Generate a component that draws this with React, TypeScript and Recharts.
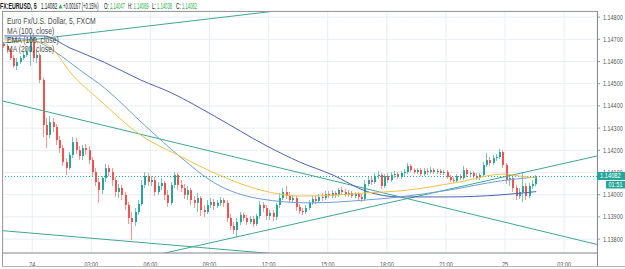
import React from 'react'
import { ComposedChart, Bar, Line, XAxis, YAxis, CartesianGrid, ReferenceLine } from 'recharts'

const W = 625
const H = 269
const FONT = '"Liberation Sans", Arial, sans-serif'

// 10-minute candles, time in minutes from 24 00:00 (first candle 23 22:35)
const FIRST_CANDLE = -85
const STEP = 10

// [open, high, low, close]
const ohlc = [
    [1.14679, 1.14688, 1.14661, 1.14670], [1.14670, 1.14679, 1.14638, 1.14652], [1.14652, 1.14661, 1.14607, 1.14616],
    [1.14616, 1.14629, 1.14571, 1.14580], [1.14580, 1.14616, 1.14562, 1.14598], [1.14598, 1.14625, 1.14589, 1.14616],
    [1.14616, 1.14643, 1.14607, 1.14629], [1.14629, 1.14661, 1.14620, 1.14643], [1.14643, 1.14728, 1.14580, 1.14706],
    [1.14706, 1.14719, 1.14598, 1.14616], [1.14616, 1.14652, 1.14593, 1.14629], [1.14629, 1.14638, 1.14503, 1.14517],
    [1.14517, 1.14526, 1.14260, 1.14314], [1.14314, 1.14345, 1.14210, 1.14269], [1.14269, 1.14354, 1.14255, 1.14327],
    [1.14327, 1.14345, 1.14282, 1.14305], [1.14305, 1.14318, 1.14224, 1.14246], [1.14246, 1.14264, 1.14188, 1.14210],
    [1.14210, 1.14224, 1.14129, 1.14147], [1.14147, 1.14165, 1.14089, 1.14120], [1.14120, 1.14192, 1.14111, 1.14179],
    [1.14179, 1.14260, 1.14165, 1.14237], [1.14237, 1.14255, 1.14183, 1.14201], [1.14201, 1.14219, 1.14156, 1.14174],
    [1.14174, 1.14224, 1.14156, 1.14210], [1.14210, 1.14228, 1.14179, 1.14201], [1.14201, 1.14219, 1.14138, 1.14156],
    [1.14156, 1.14170, 1.14080, 1.14102], [1.14102, 1.14120, 1.14039, 1.14057], [1.14057, 1.14075, 1.13963, 1.14021],
    [1.14021, 1.14084, 1.14003, 1.14075], [1.14075, 1.14138, 1.14057, 1.14120], [1.14120, 1.14134, 1.14084, 1.14102],
    [1.14102, 1.14120, 1.14039, 1.14066], [1.14066, 1.14080, 1.13990, 1.14012], [1.14012, 1.14048, 1.13985, 1.14030],
    [1.14030, 1.14044, 1.13976, 1.13999], [1.13999, 1.14012, 1.13931, 1.13954], [1.13954, 1.13967, 1.13868, 1.13895],
    [1.13895, 1.13922, 1.13796, 1.13877], [1.13877, 1.13940, 1.13859, 1.13922], [1.13922, 1.13976, 1.13909, 1.13958],
    [1.13958, 1.14066, 1.13949, 1.14044], [1.14044, 1.14102, 1.14030, 1.14084], [1.14084, 1.14098, 1.14039, 1.14057],
    [1.14057, 1.14084, 1.14039, 1.14066], [1.14066, 1.14080, 1.13994, 1.14012], [1.14012, 1.14057, 1.13999, 1.14039],
    [1.14039, 1.14075, 1.14021, 1.14053], [1.14053, 1.14062, 1.13976, 1.13999], [1.13999, 1.14021, 1.13945, 1.13963],
    [1.13963, 1.14057, 1.13954, 1.14044], [1.14044, 1.14102, 1.14030, 1.14089], [1.14089, 1.14098, 1.14021, 1.14044],
    [1.14044, 1.14066, 1.14012, 1.14030], [1.14030, 1.14048, 1.13981, 1.13999], [1.13999, 1.14039, 1.13976, 1.14021],
    [1.14021, 1.14030, 1.13954, 1.13976], [1.13976, 1.13994, 1.13940, 1.13963], [1.13963, 1.14008, 1.13922, 1.13985],
    [1.13985, 1.13994, 1.13904, 1.13931], [1.13931, 1.13954, 1.13900, 1.13922], [1.13922, 1.13976, 1.13913, 1.13954],
    [1.13954, 1.13985, 1.13940, 1.13967], [1.13967, 1.13981, 1.13931, 1.13949], [1.13949, 1.13976, 1.13940, 1.13963],
    [1.13963, 1.13990, 1.13949, 1.13976], [1.13976, 1.13985, 1.13945, 1.13963], [1.13963, 1.13976, 1.13877, 1.13895],
    [1.13895, 1.13913, 1.13841, 1.13859], [1.13859, 1.13877, 1.13823, 1.13841], [1.13841, 1.13895, 1.13810, 1.13877],
    [1.13877, 1.13922, 1.13863, 1.13909], [1.13909, 1.13918, 1.13881, 1.13895], [1.13895, 1.13909, 1.13863, 1.13877],
    [1.13877, 1.13904, 1.13868, 1.13891], [1.13891, 1.13904, 1.13854, 1.13868], [1.13868, 1.13913, 1.13859, 1.13904],
    [1.13904, 1.13972, 1.13891, 1.13954], [1.13954, 1.13967, 1.13922, 1.13940], [1.13940, 1.13954, 1.13886, 1.13904],
    [1.13904, 1.13931, 1.13886, 1.13918], [1.13918, 1.13931, 1.13881, 1.13900], [1.13900, 1.13963, 1.13886, 1.13954],
    [1.13954, 1.14008, 1.13940, 1.13985], [1.13985, 1.14030, 1.13976, 1.14012], [1.14012, 1.14039, 1.13981, 1.13994],
    [1.13994, 1.14012, 1.13963, 1.13976], [1.13976, 1.13999, 1.13963, 1.13985], [1.13985, 1.13994, 1.13927, 1.13945],
    [1.13945, 1.13958, 1.13913, 1.13927], [1.13927, 1.13940, 1.13909, 1.13922], [1.13922, 1.13954, 1.13913, 1.13940],
    [1.13940, 1.13976, 1.13931, 1.13963], [1.13963, 1.13994, 1.13954, 1.13981], [1.13981, 1.13994, 1.13958, 1.13972],
    [1.13972, 1.14003, 1.13963, 1.13990], [1.13990, 1.14008, 1.13972, 1.13985], [1.13985, 1.14017, 1.13976, 1.14003],
    [1.14003, 1.14017, 1.13985, 1.13994], [1.13994, 1.14021, 1.13985, 1.14008], [1.14008, 1.14017, 1.13985, 1.13999],
    [1.13999, 1.14030, 1.13990, 1.14021], [1.14021, 1.14035, 1.13999, 1.14012], [1.14012, 1.14026, 1.13990, 1.13999],
    [1.13999, 1.14021, 1.13990, 1.14008], [1.14008, 1.14017, 1.13985, 1.13994], [1.13994, 1.14012, 1.13985, 1.14003],
    [1.14003, 1.14012, 1.13976, 1.13990], [1.13990, 1.14003, 1.13967, 1.13981], [1.13981, 1.14066, 1.13972, 1.14048],
    [1.14048, 1.14084, 1.14039, 1.14066], [1.14066, 1.14080, 1.14044, 1.14057], [1.14057, 1.14098, 1.14048, 1.14084],
    [1.14084, 1.14107, 1.14071, 1.14089], [1.14089, 1.14098, 1.14026, 1.14039], [1.14039, 1.14093, 1.14030, 1.14084],
    [1.14084, 1.14098, 1.14053, 1.14066], [1.14066, 1.14102, 1.14057, 1.14089], [1.14089, 1.14107, 1.14075, 1.14093],
    [1.14093, 1.14102, 1.14071, 1.14080], [1.14080, 1.14107, 1.14071, 1.14098], [1.14098, 1.14116, 1.14084, 1.14102],
    [1.14102, 1.14143, 1.14093, 1.14129], [1.14129, 1.14138, 1.14102, 1.14111], [1.14111, 1.14120, 1.14093, 1.14102],
    [1.14102, 1.14120, 1.14093, 1.14111], [1.14111, 1.14120, 1.14084, 1.14093], [1.14093, 1.14120, 1.14084, 1.14107],
    [1.14107, 1.14120, 1.14089, 1.14102], [1.14102, 1.14125, 1.14093, 1.14111], [1.14111, 1.14120, 1.14093, 1.14102],
    [1.14102, 1.14116, 1.14093, 1.14107], [1.14107, 1.14116, 1.14089, 1.14098], [1.14098, 1.14111, 1.14089, 1.14102],
    [1.14102, 1.14111, 1.14071, 1.14080], [1.14080, 1.14089, 1.14057, 1.14066], [1.14066, 1.14080, 1.14053, 1.14062],
    [1.14062, 1.14093, 1.14053, 1.14084], [1.14084, 1.14093, 1.14066, 1.14075], [1.14075, 1.14129, 1.14066, 1.14111],
    [1.14111, 1.14120, 1.14080, 1.14093], [1.14093, 1.14107, 1.14084, 1.14098], [1.14098, 1.14107, 1.14075, 1.14084],
    [1.14084, 1.14098, 1.14066, 1.14075], [1.14075, 1.14098, 1.14066, 1.14089], [1.14089, 1.14147, 1.14080, 1.14134],
    [1.14134, 1.14188, 1.14125, 1.14156], [1.14156, 1.14170, 1.14129, 1.14143], [1.14143, 1.14179, 1.14134, 1.14165],
    [1.14165, 1.14183, 1.14152, 1.14170], [1.14170, 1.14206, 1.14161, 1.14192], [1.14192, 1.14201, 1.14120, 1.14134],
    [1.14134, 1.14143, 1.14048, 1.14066], [1.14066, 1.14093, 1.14039, 1.14075], [1.14075, 1.14089, 1.14012, 1.14030],
    [1.14030, 1.14044, 1.13976, 1.13994], [1.13994, 1.14030, 1.13981, 1.14012], [1.14012, 1.14102, 1.13967, 1.14039],
    [1.14039, 1.14053, 1.13976, 1.13994], [1.13994, 1.14053, 1.13985, 1.14039], [1.14039, 1.14066, 1.14026, 1.14048],
    [1.14047, 1.14089, 1.14038, 1.14082],
]

// [minutes, price]
const ma100 = [
    [-85, 1.14706], [0, 1.14697], [70, 1.14643], [145, 1.14562], [220, 1.14481], [345, 1.14309], [455, 1.14165],
    [555, 1.14053], [695, 1.13981], [845, 1.13963], [1015, 1.13976], [1120, 1.13990], [1270, 1.14021],
    [1425, 1.14062], [1535, 1.14080],
]
const ema100 = [
    [-85, 1.14697], [25, 1.14688], [70, 1.14643], [115, 1.14553], [205, 1.14427], [330, 1.14269], [455, 1.14170],
    [555, 1.14098], [695, 1.14021], [815, 1.13994], [935, 1.13999], [1015, 1.14008], [1120, 1.14017],
    [1300, 1.14057], [1435, 1.14093], [1485, 1.14084], [1535, 1.14075],
]
const ma200 = [
    [-85, 1.14715], [35, 1.14715], [115, 1.14661], [220, 1.14596], [330, 1.14517], [425, 1.14458], [555, 1.14354],
    [715, 1.14219], [815, 1.14147], [915, 1.14089], [1020, 1.14014], [1120, 1.13990], [1270, 1.13990],
    [1425, 1.13999], [1535, 1.14014],
]

// drawn trend lines: two anchor points each
const trendLines = [
    [[-89, 1.14683], [785, 1.14835]],
    [[-98, 1.14425], [1728, 1.13773]],
    [[-98, 1.13839], [815, 1.13724]],
    [[358, 1.13722], [1728, 1.14177]],
]

const TIME_TICKS = [0, 180, 360, 540, 720, 900, 1080, 1260, 1440, 1620]
const TIME_LABELS = ['24', '03:00', '06:00', '09:00', '12:00', '15:00', '18:00', '21:00', '25', '03:00']
const PRICE_TICKS = [1.138, 1.139, 1.14, 1.141, 1.142, 1.143, 1.144, 1.145, 1.146, 1.147, 1.148]
const X_DOMAIN = [-89, 1720]
const Y_DOMAIN = [1.137374, 1.148275]
const LAST_PRICE = 1.14082

const UP = '#26a69a'
const DN = '#ef5350'
const WICK_UP = '#74c7be'
const WICK_DN = '#f59896'
const TREND = '#3fa892'
const GREEN_TXT = '#2bb24c'
const DARK_TXT = '#131722'

const MARGIN = { top: 11, right: 0, left: 3, bottom: 0 }
const Y_W = 28
const X_H = 16

const candles = ohlc.map(([o, h, l, c], i) => ({ t: FIRST_CANDLE + i * STEP, o, h, l, c }))
const toPts = (arr: number[][]) => arr.map(([t, v]) => ({ t, v }))

function Candle(props: any) {
    const { x, y, width, height, payload } = props
    if (!payload || x == null) return null
    const top = Math.min(y, y + height)
    const bot = Math.max(y, y + height)
    const span = payload.h - payload.l
    const py = (v: number) => (span > 0 ? top + ((payload.h - v) / span) * (bot - top) : top)
    const up = payload.c >= payload.o
    const cx = Math.round(x + width / 2)
    const bTop = py(Math.max(payload.o, payload.c))
    const bBot = py(Math.min(payload.o, payload.c))
    return (
        <g>
            <rect x={cx - 1} y={top} width={1} height={Math.max(bot - top, 1)} fill={up ? WICK_UP : WICK_DN} />
            <rect x={cx - 1} y={bTop} width={2} height={Math.max(bBot - bTop, 1)} fill={up ? UP : DN} />
        </g>
    )
}

// narrow text: the reference is squeezed horizontally, so scale glyphs in x
function Narrow({ x, y, sx, children, anchor = 'start', ...rest }: any) {
    return (
        <text transform={`translate(${x} ${y}) scale(${sx} 1)`} textAnchor={anchor} fontFamily={FONT} {...rest}>
            {children}
        </text>
    )
}

function PriceTick(props: any) {
    const { x, y, payload } = props
    return (
        <Narrow x={x + 1} y={y} sx={0.78} dy="0.35em" fontSize={7} fill="#555">
            {payload.value.toFixed(5)}
        </Narrow>
    )
}

function TimeTick(props: any) {
    const { x, y, index } = props
    return (
        <Narrow x={x} y={y + 6} sx={0.78} anchor="middle" fontSize={7} fill="#555">
            {TIME_LABELS[index] ?? ''}
        </Narrow>
    )
}

function Overlay() {
    const plotTop = MARGIN.top
    const plotBot = H - X_H
    const axisX = W - Y_W
    const yOf = (p: number) => plotTop + ((Y_DOMAIN[1] - p) / (Y_DOMAIN[1] - Y_DOMAIN[0])) * (plotBot - plotTop)
    const ly = yOf(LAST_PRICE)
    const hdr = [
        { s: 'FX:EURUSD, 5', x: 0, sx: 0.62, c: DARK_TXT, b: true },
        { s: '1.14082', x: 41, sx: 0.53, c: DARK_TXT },
        { s: '+0.00167 (+0.15%)', x: 63, sx: 0.49, c: DARK_TXT },
        { s: 'O:', x: 104, sx: 0.54, c: DARK_TXT },
        { s: '1.14047', x: 110, sx: 0.48, c: GREEN_TXT },
        { s: 'H:', x: 128, sx: 0.5, c: DARK_TXT },
        { s: '1.14089', x: 133.5, sx: 0.49, c: GREEN_TXT },
        { s: 'L:', x: 152, sx: 0.54, c: DARK_TXT },
        { s: '1.14038', x: 157, sx: 0.49, c: GREEN_TXT },
        { s: 'C:', x: 176, sx: 0.56, c: DARK_TXT },
        { s: '1.14082', x: 182, sx: 0.48, c: GREEN_TXT },
    ]
    const legend = [
        { s: 'Euro Fx/U.S. Dollar, 5, FXCM', y: 24 },
        { s: 'MA (100, close)', y: 33.5 },
        { s: 'EMA (100, close)', y: 43 },
        { s: 'MA (200, close)', y: 52 },
    ]
    return (
        <svg width={W} height={H} style={{ position: 'absolute', left: 0, top: 0, pointerEvents: 'none' }}>
            {/* frame */}
            <line x1={2.5} y1={plotTop + 0.5} x2={axisX} y2={plotTop + 0.5} stroke="#9a9a9a" />
            <line x1={2.5} y1={plotTop} x2={2.5} y2={266.5} stroke="#9a9a9a" />
            <line x1={axisX + 0.5} y1={plotTop} x2={axisX + 0.5} y2={266.5} stroke="#8a8a8a" />
            <line x1={2} y1={266.5} x2={W} y2={266.5} stroke="#b5b5b5" />

            {/* header */}
            {hdr.map((h, i) => (
                <Narrow key={i} x={h.x} y={8.5} sx={h.sx} fontSize={8.5} fill={h.c} fontWeight={h.b ? 700 : 400}>
                    {h.s}
                </Narrow>
            ))}
            <polygon points="58.5,8.5 62.5,8.5 60.5,4" fill={GREEN_TXT} />

            {/* study legend */}
            {legend.map((l, i) => (
                <Narrow key={i} x={7} y={l.y} sx={0.8} fontSize={8.5} fill="#4a4a4a">{l.s}</Narrow>
            ))}

            {/* last price tag + countdown */}
            <rect x={axisX} y={ly - 4.5} width={Y_W} height={8} fill={UP} />
            <Narrow x={axisX + 3} y={ly - 0.5} sx={0.82} dy="0.35em" fontSize={7} fill="#fff">1.14082</Narrow>
            <rect x={606} y={ly + 4.5} width={W - 606} height={7.5} fill={UP} />
            <Narrow x={608.5} y={ly + 8.3} sx={0.8} dy="0.35em" fontSize={7} fill="#fff">01:51</Narrow>
        </svg>
    )
}

export default function App() {
    return (
        <div style={{ position: 'relative', width: W, height: H, background: '#fff' }}>
            <style>{'body{margin:0}'}</style>
            <ComposedChart width={W} height={H} data={candles} margin={MARGIN}>
                <CartesianGrid stroke="#e9eef4" />
                <XAxis dataKey="t" type="number" domain={X_DOMAIN} ticks={TIME_TICKS} allowDataOverflow
                    height={X_H} axisLine={{ stroke: '#8a8a8a' }} tickLine={false} tick={<TimeTick />} interval={0} />
                <YAxis type="number" orientation="right" domain={Y_DOMAIN} ticks={PRICE_TICKS} allowDataOverflow
                    width={Y_W} axisLine={false} tickSize={3} tickLine={{ stroke: '#999' }} tick={<PriceTick />} interval={0} />

                <ReferenceLine y={LAST_PRICE} stroke={UP} strokeDasharray="1 2" />

                {trendLines.map((tl, i) => (
                    <Line key={'tl' + i} data={toPts(tl)} dataKey="v" type="linear" stroke={TREND} strokeWidth={1}
                        dot={false} activeDot={false} isAnimationActive={false} />
                ))}

                <Bar dataKey={(d: any) => [d.l, d.h]} barSize={2} isAnimationActive={false}
                    shape={(p: any) => <Candle {...p} />} />

                <Line data={toPts(ma200)} dataKey="v" type="monotone" stroke="#4c62b4" strokeWidth={1}
                    dot={false} activeDot={false} isAnimationActive={false} />
                <Line data={toPts(ma100)} dataKey="v" type="monotone" stroke="#6c9fd4" strokeWidth={1}
                    dot={false} activeDot={false} isAnimationActive={false} />
                <Line data={toPts(ema100)} dataKey="v" type="monotone" stroke="#f3c14a" strokeWidth={1}
                    dot={false} activeDot={false} isAnimationActive={false} />
            </ComposedChart>
            <Overlay />
        </div>
    )
}
